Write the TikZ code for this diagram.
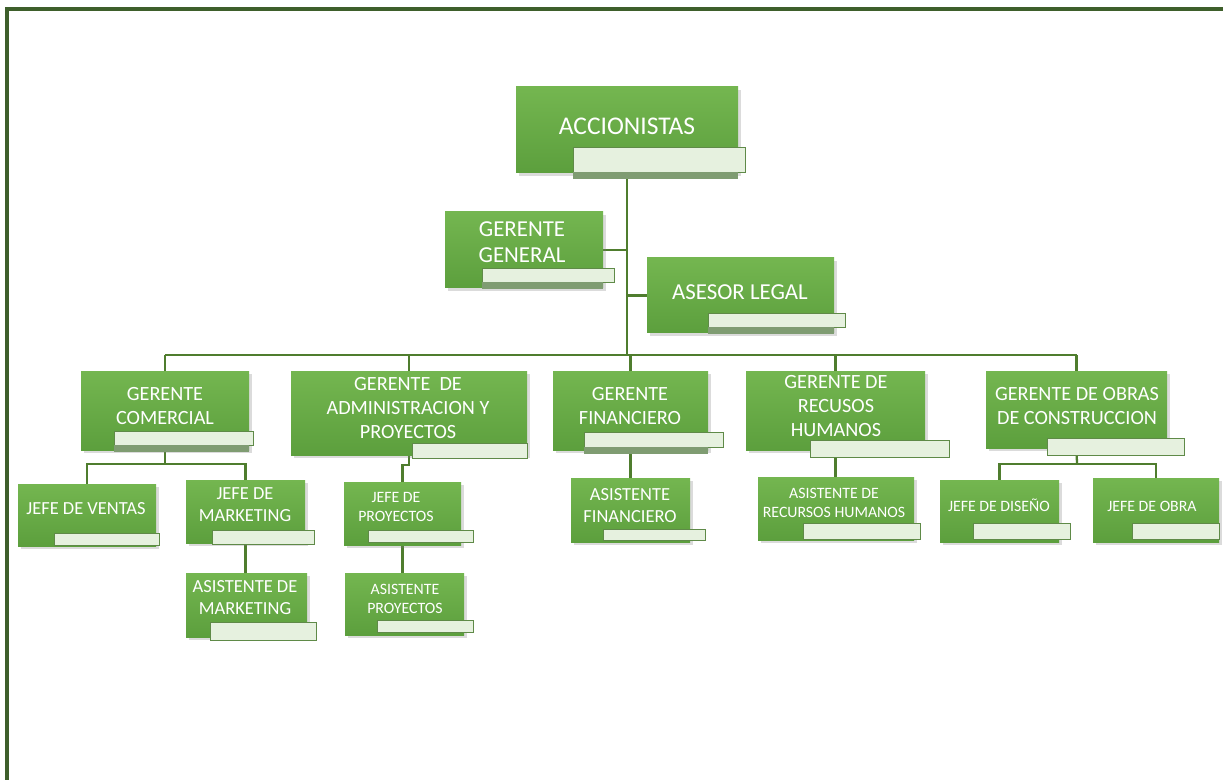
\documentclass[tikz,border=0pt]{standalone}
\usepackage{fontspec}
\setmainfont{Carlito}
\usepackage{tikz}
\usetikzlibrary{fit,calc,shadows,backgrounds,positioning}

\definecolor{boxtop}{HTML}{74B650}
\definecolor{boxbot}{HTML}{5C9F3D}
\definecolor{tabfill}{HTML}{E6F1DF}
\definecolor{tabline}{HTML}{5F8A48}
\definecolor{tabshade}{HTML}{7F9C72}
\definecolor{connline}{HTML}{4F7D2E}
\definecolor{framecol}{HTML}{3E5F2B}

\begin{document}
\begin{tikzpicture}[x=0.02cm,y=-0.02cm,
  gbox/.style={inner sep=0pt, top color=boxtop, bottom color=boxbot, draw=none,
    drop shadow={opacity=0.28, shadow xshift=1.6pt, shadow yshift=-1.6pt}},
  tabbox/.style={inner sep=0pt, fill=tabfill, draw=tabline, line width=0.5pt},
  txt/.style={text=white, align=center, inner sep=0pt},
  tA/.style={txt, font=\fontsize{14.5}{17}\selectfont},
  tB/.style={txt, font=\fontsize{13}{15}\selectfont},
  tC/.style={txt, font=\fontsize{11.5}{13.4}\selectfont},
  tD/.style={txt, font=\fontsize{10.5}{12.5}\selectfont},
  tE/.style={txt, font=\fontsize{9}{10.6}\selectfont},
  conn/.style={draw=connline, line width=1.3pt},
  borderline/.style={draw=framecol, line width=1.8pt}]
  \useasboundingbox (0,0) rectangle (1223,780);

  % boxes: name / box corners / tab corners
  \foreach \n/\xa/\ya/\xb/\yb/\xc/\yc/\xd/\yd in {
      acc/516/87/738/173/573/147/745/172,
      gg/445/212/603/288/482/268/614/282,
      al/647/258/834/333/708/313/845/327,
      gc/81/371/249/450/114/431/253/445,
      ga/291/371/527/455/412/443/527/458,
      gf/553/371/708/450/584/432/723/447,
      gr/746/371/925/450/810/440/949/457,
      go/986/371/1167/448/1047/438/1184/455,
      jv/18/484/156/546/54/533/159/545,
      jm/186/480/305/543/212/530/314/544,
      am/186/573/307/637/210/622/316/640,
      jp/344/482/461/545/368/530/473/542,
      ap/345/573/464/635/377/620/473/632,
      af/571/478/690/542/603/529/705/540,
      ar/758/477/914/540/803/523/920/539,
      jd/940/480/1059/542/973/523/1070/539,
      jo/1093/478/1219/542/1132/523/1219/539} {
    \node[gbox, fit={(\xa,\ya) (\xb,\yb)}] (\n) {};
    \node[tabbox, fit={(\xc,\yc) (\xd,\yd)}] (\n-l) {};
  }
  \foreach \n in {acc,gg,al,gc,gf}
    \fill[tabshade] (\n-l.south west) rectangle ($(\n-l.south -| \n.east)+(0,7)$);

  \node[tA] (acc-t) at (627,126) {ACCIONISTAS};
  \node[tB] (gg-t) at (522,242) {GERENTE\\GENERAL};
  \node[tB] (al-t) at (740,292) {ASESOR LEGAL};
  \node[tC] (gc-t) at (165,406) {GERENTE\\COMERCIAL};
  \node[tC] (ga-t) at (408,408) {GERENTE~~DE\\ADMINISTRACION Y\\PROYECTOS};
  \node[tC] (gf-t) at (630,406) {GERENTE\\FINANCIERO};
  \node[tC] (gr-t) at (836,406) {GERENTE DE\\RECUSOS\\HUMANOS};
  \node[tC] (go-t) at (1077,406) {GERENTE DE OBRAS\\DE CONSTRUCCION};
  \node[tD] (jv-t) at (86,509) {JEFE DE VENTAS};
  \node[tD] (jm-t) at (245,505) {JEFE DE\\MARKETING};
  \node[tD] (am-t) at (245,598) {ASISTENTE DE\\MARKETING};
  \node[tE] (jp-t) at (396,507) {JEFE DE\\PROYECTOS};
  \node[tE] (ap-t) at (405,599) {ASISTENTE\\PROYECTOS};
  \node[tD] (af-t) at (630,506) {ASISTENTE\\FINANCIERO};
  \node[tE] (ar-t) at (834,503) {ASISTENTE DE\\RECURSOS HUMANOS};
  \node[tE] (jd-t) at (999,505) {JEFE DE DISEÑO};
  \node[tE] (jo-t) at (1152,506) {JEFE DE OBRA};

  \begin{scope}[on background layer]
    \fill[white] (0,0) rectangle (1223,780);
    \draw[borderline] (1223,9) -| (7,780);
    \coordinate (hub) at (627,355);
    \coordinate (gc-j) at (165,464);
    \coordinate (go-j) at (1077,464);
    \draw[conn] (acc.south) -- (hub);
    \draw[conn] (gg.east) -- (gg.east -| hub);
    \draw[conn] (al.west) -- (al.west -| hub);
    \draw[conn] (gc.north |- hub) -- (go.north |- hub);
    \foreach \n in {gc,ga,gf,gr,go}
      \draw[conn] (\n.north |- hub) -- (\n.north);
    \draw[conn] (gc.south) -- (gc-j);
    \draw[conn] (jv.north) |- (gc-j) -| (jm.north);
    \draw[conn] (jm.south) -- (jm.south |- am.north);
    \draw[conn] (ga.south) -- ++(0,10) -| (jp.north);
    \draw[conn] (jp.south) -- (jp.south |- ap.north);
    \draw[conn] (gf.south) -- (af.north);
    \draw[conn] (gr.south) -- (gr.south |- ar.north);
    \draw[conn] (go.south) -- (go-j);
    \draw[conn] (jd.north) |- (go-j) -| (jo.north);
  \end{scope}
\end{tikzpicture}
\end{document}
